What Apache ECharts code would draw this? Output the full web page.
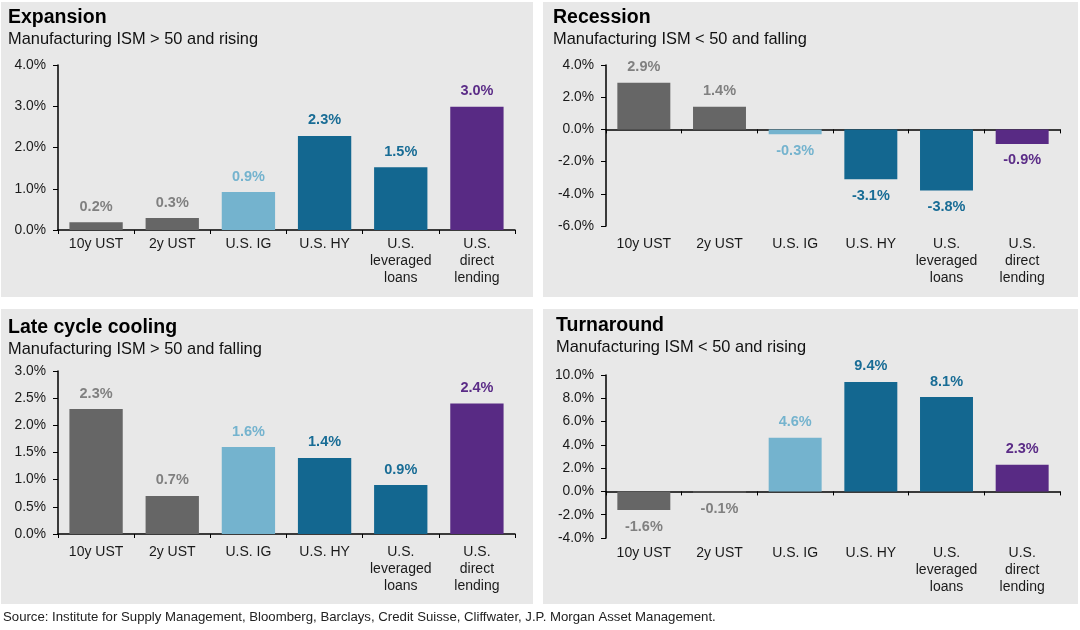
<!DOCTYPE html>
<html>
<head>
<meta charset="utf-8">
<script src="https://cdn.jsdelivr.net/npm/echarts@6/dist/echarts.min.js"></script>
<style>
html,body{margin:0;padding:0;background:#fff;}
#chart{width:1080px;height:630px;}
</style>
</head>
<body>
<div id="chart"></div>
<script>
// ---- data ----
const categories = ['10y UST', '2y UST', 'U.S. IG', 'U.S. HY', 'U.S.\nleveraged\nloans', 'U.S.\ndirect\nlending'];
const expansion = [0.19, 0.29, 0.92, 2.28, 1.52, 2.99];
const recession = [2.9, 1.4, -0.3, -3.1, -3.8, -0.9];
const lateCycle = [2.3, 0.7, 1.6, 1.4, 0.9, 2.4];
const turnaround = [-1.6, -0.1, 4.6, 9.4, 8.1, 2.3];
const panelTitles = ['Expansion', 'Recession', 'Late cycle cooling', 'Turnaround'];
const panelSubtitles = ['Manufacturing ISM > 50 and rising', 'Manufacturing ISM < 50 and falling', 'Manufacturing ISM > 50 and falling', 'Manufacturing ISM < 50 and rising'];
const sourceText = 'Source: Institute for Supply Management, Bloomberg, Barclays, Credit Suisse, Cliffwater, J.P. Morgan Asset Management.';

// ---- styles ----
const barColors = ['#666666', '#666666', '#74b3ce', '#136790', '#136790', '#582a84'];
const labelColors = ['#808080', '#808080', '#74b3ce', '#186c95', '#186c95', '#5b2c87'];
const FONT = 'Liberation Sans, Arial, Helvetica, sans-serif';

const panels = [
  {values: expansion, min: 0, max: 4, interval: 1, grid: {left: 58, right: 565, top: 65, bottom: 400}, rect: [1, 2, 532, 295], title: [8, 8], labelMargin: 6},
  {values: recession, min: -6, max: 4, interval: 2, grid: {left: 606, right: 20, top: 65, bottom: 404}, rect: [543, 2, 535, 295], title: [553, 8], labelMargin: 10},
  {values: lateCycle, min: 0, max: 3, interval: 0.5, grid: {left: 58, right: 565, top: 371, bottom: 96}, rect: [1, 309, 532, 295], title: [8, 318], labelMargin: 10},
  {values: turnaround, min: -4, max: 10, interval: 2, grid: {left: 606, right: 20, top: 375, bottom: 92}, rect: [543, 309, 535, 295], title: [556, 316], labelMargin: 7}
];

const option = {
  animation: false,
  backgroundColor: '#ffffff',
  textStyle: {fontFamily: FONT},
  title: panels.map((p, i) => ({
    text: panelTitles[i],
    subtext: panelSubtitles[i],
    left: p.title[0],
    top: p.title[1],
    padding: 0,
    itemGap: 3,
    textStyle: {fontFamily: FONT, fontSize: 19.5, fontWeight: 'bold', color: '#000', lineHeight: 19},
    subtextStyle: {fontFamily: FONT, fontSize: 16.4, color: '#111', lineHeight: 17}
  })),
  graphic: {
    elements: panels.map(p => ({
      type: 'rect', z: -10, silent: true,
      shape: {x: p.rect[0], y: p.rect[1], width: p.rect[2], height: p.rect[3]},
      style: {fill: '#e8e8e8'}
    })).concat([{
      type: 'text', left: 3, top: 611,
      style: {text: sourceText, font: '13.2px ' + FONT, fill: '#222'}
    }])
  },
  grid: panels.map(p => Object.assign({containLabel: false}, p.grid)),
  xAxis: panels.flatMap((p, i) => [
    {
      type: 'category', gridIndex: i, data: categories,
      axisLine: {show: true, onZero: true, lineStyle: {color: '#000', width: 1.5}},
      axisTick: {show: true, length: 4, lineStyle: {color: '#000', width: 1}},
      axisLabel: {show: false},
      splitLine: {show: false}
    },
    {
      type: 'category', gridIndex: i, data: categories, position: 'bottom',
      axisLine: {show: false, onZero: false},
      axisTick: {show: false},
      axisLabel: {show: true, interval: 0, margin: p.labelMargin, fontSize: 14, lineHeight: 17, color: '#1a1a1a', fontFamily: FONT},
      splitLine: {show: false}
    }
  ]),
  yAxis: panels.map((p, i) => ({
    type: 'value', gridIndex: i, min: p.min, max: p.max, interval: p.interval,
    axisLine: {show: true, lineStyle: {color: '#000', width: 1.5}},
    axisTick: {show: true, length: 5, lineStyle: {color: '#000'}},
    splitLine: {show: false},
    axisLabel: {fontSize: 13.8, color: '#1a1a1a', margin: 12, fontFamily: FONT, formatter: v => v.toFixed(1) + '%'}
  })),
  series: panels.map((p, i) => ({
    type: 'bar', xAxisIndex: 2 * i, yAxisIndex: i,
    barCategoryGap: '30%',
    data: p.values.map((v, j) => ({
      value: v,
      itemStyle: {color: barColors[j]},
      label: {
        show: true,
        position: v >= 0 ? 'top' : 'bottom',
        distance: v >= 0 ? 8 : 9,
        color: labelColors[j],
        fontSize: 14.5, fontWeight: 'bold', fontFamily: FONT,
        formatter: q => q.value.toFixed(1) + '%'
      }
    }))
  }))
};

const chart = echarts.init(document.getElementById('chart'), null, {renderer: 'canvas'});
chart.setOption(option);
</script>
</body>
</html>
